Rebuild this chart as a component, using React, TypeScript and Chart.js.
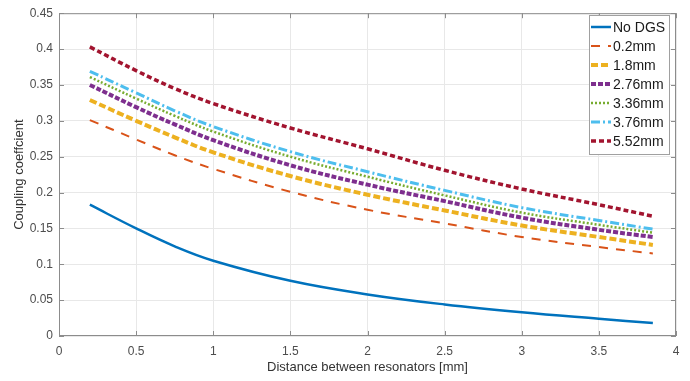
import React, { useEffect, useRef } from 'react';
import { Chart, registerables } from 'chart.js';

Chart.register(...registerables);

const xValues = [0.2, 0.5, 0.75, 1, 1.5, 2, 2.5, 3, 3.5, 3.85];
const seriesNames = ['No DGS', '0.2mm', '1.8mm', '2.76mm', '3.36mm', '3.76mm', '5.52mm'];
const noDGS = [0.183, 0.150, 0.125, 0.105, 0.077, 0.058, 0.044, 0.033, 0.024, 0.018];
const mm0_2 = [0.301, 0.274, 0.252, 0.233, 0.201, 0.176, 0.157, 0.138, 0.124, 0.115];
const mm1_8 = [0.329, 0.300, 0.277, 0.256, 0.223, 0.197, 0.175, 0.154, 0.138, 0.127];
const mm2_76 = [0.350, 0.319, 0.295, 0.273, 0.238, 0.211, 0.188, 0.165, 0.148, 0.138];
const mm3_36 = [0.361, 0.331, 0.307, 0.285, 0.250, 0.222, 0.196, 0.172, 0.155, 0.144];
const mm3_76 = [0.369, 0.339, 0.314, 0.292, 0.257, 0.229, 0.203, 0.179, 0.161, 0.149];
const mm5_52 = [0.403, 0.370, 0.345, 0.324, 0.290, 0.261, 0.231, 0.205, 0.183, 0.167];
const xTicks = [0, 0.5, 1, 1.5, 2, 2.5, 3, 3.5, 4];
const yTicks = [0, 0.05, 0.1, 0.15, 0.2, 0.25, 0.3, 0.35, 0.4, 0.45];

const allSeries = [noDGS, mm0_2, mm1_8, mm2_76, mm3_36, mm3_76, mm5_52];
const colors = ['#0072BD', '#D95319', '#EDB120', '#7E2F8E', '#77AC30', '#4DBEEE', '#A2142F'];
const dashes: number[][] = [[], [9, 8], [7, 3], [5, 2], [2, 2], [9, 3, 2, 3], [5, 3]];
const widths = [2.5, 2, 4, 4, 2.5, 3, 3.5];

const FONT = '"Liberation Sans", Arial, sans-serif';

const framePlugin = {
  id: 'frameAndLegend',
  afterDraw(chart: any) {
    const { ctx, chartArea } = chart;
    const { left, right, top, bottom } = chartArea;
    ctx.save();
    ctx.strokeStyle = '#8c8c8c';
    ctx.lineWidth = 1;
    ctx.setLineDash([]);
    ctx.strokeRect(left + 0.5, top + 0.5, right - left - 1, bottom - top - 1);
    const xs = chart.scales.x;
    const ys = chart.scales.y;
    ctx.beginPath();
    xTicks.forEach((t) => {
      const px = Math.round(xs.getPixelForValue(t)) + 0.5;
      ctx.moveTo(px, bottom);
      ctx.lineTo(px, bottom - 5);
      ctx.moveTo(px, top);
      ctx.lineTo(px, top + 5);
    });
    yTicks.forEach((t) => {
      const py = Math.round(ys.getPixelForValue(t)) + 0.5;
      ctx.moveTo(left, py);
      ctx.lineTo(left + 5, py);
      ctx.moveTo(right, py);
      ctx.lineTo(right - 5, py);
    });
    ctx.stroke();

    const bx = 589;
    const by = 15;
    const bw = 80;
    const rowH = 19;
    const bh = rowH * seriesNames.length + 6;
    ctx.fillStyle = '#ffffff';
    ctx.fillRect(bx, by, bw, bh);
    ctx.strokeStyle = '#a0a0a0';
    ctx.strokeRect(bx + 0.5, by + 0.5, bw, bh);
    ctx.font = `14px ${FONT}`;
    ctx.textBaseline = 'middle';
    ctx.textAlign = 'left';
    seriesNames.forEach((name, i) => {
      const cy = by + 12 + i * rowH;
      ctx.strokeStyle = colors[i];
      ctx.lineWidth = widths[i];
      ctx.setLineDash(dashes[i]);
      ctx.beginPath();
      ctx.moveTo(bx + 2, cy);
      ctx.lineTo(bx + 22, cy);
      ctx.stroke();
      ctx.setLineDash([]);
      ctx.fillStyle = '#1a1a1a';
      ctx.fillText(name, bx + 24, cy + 1);
    });
    ctx.restore();
  },
};

function fmt(v: number) {
  return String(Number(v.toFixed(2)));
}

export default function App() {
  const ref = useRef<HTMLCanvasElement | null>(null);
  useEffect(() => {
    document.body.style.margin = '0';
    const canvas = ref.current;
    if (!canvas) return;
    const chart = new Chart(canvas, {
      type: 'line',
      data: {
        datasets: allSeries.map((s, i) => ({
          label: seriesNames[i],
          data: s.map((y, j) => ({ x: xValues[j], y })),
          borderColor: colors[i],
          backgroundColor: colors[i],
          borderWidth: widths[i],
          borderDash: dashes[i],
          pointRadius: 0,
          tension: 0.4,
          fill: false,
        })),
      },
      options: {
        responsive: false,
        animation: false,
        layout: { padding: { top: 12, right: 14, left: 0, bottom: 0 } },
        plugins: {
          legend: { display: false },
          tooltip: { enabled: false },
        },
        scales: {
          x: {
            type: 'linear',
            min: 0,
            max: 4,
            afterBuildTicks: (axis: any) => {
              axis.ticks = xTicks.map((v) => ({ value: v }));
            },
            afterFit: (axis: any) => {
              axis.height = 45;
            },
            grid: { color: '#e8e8e8', drawTicks: false, lineWidth: 1 },
            border: { display: false },
            ticks: {
              color: '#4d4d4d',
              font: { family: FONT, size: 12 },
              padding: 8,
              maxRotation: 0,
              callback: (v: any) => fmt(Number(v)),
            },
            title: {
              display: true,
              text: 'Distance between resonators [mm]',
              color: '#333333',
              font: { family: FONT, size: 13 },
              padding: { top: 2, bottom: 6 },
            },
          },
          y: {
            type: 'linear',
            min: 0,
            max: 0.45,
            afterBuildTicks: (axis: any) => {
              axis.ticks = yTicks.map((v) => ({ value: v }));
            },
            afterFit: (axis: any) => {
              axis.width = 59;
            },
            grid: { color: '#e8e8e8', drawTicks: false, lineWidth: 1 },
            border: { display: false },
            ticks: {
              color: '#4d4d4d',
              font: { family: FONT, size: 12 },
              padding: 6,
              callback: (v: any) => fmt(Number(v)),
            },
            title: {
              display: true,
              text: 'Coupling coeffcient',
              color: '#333333',
              font: { family: FONT, size: 13 },
              padding: { top: 12, bottom: 4 },
            },
          },
        },
      },
      plugins: [framePlugin],
    });
    return () => chart.destroy();
  }, []);
  return (
    <div style={{ width: 690, height: 381 }}>
      <canvas ref={ref} width={690} height={381} style={{ display: 'block', width: 690, height: 381 }} />
    </div>
  );
}
